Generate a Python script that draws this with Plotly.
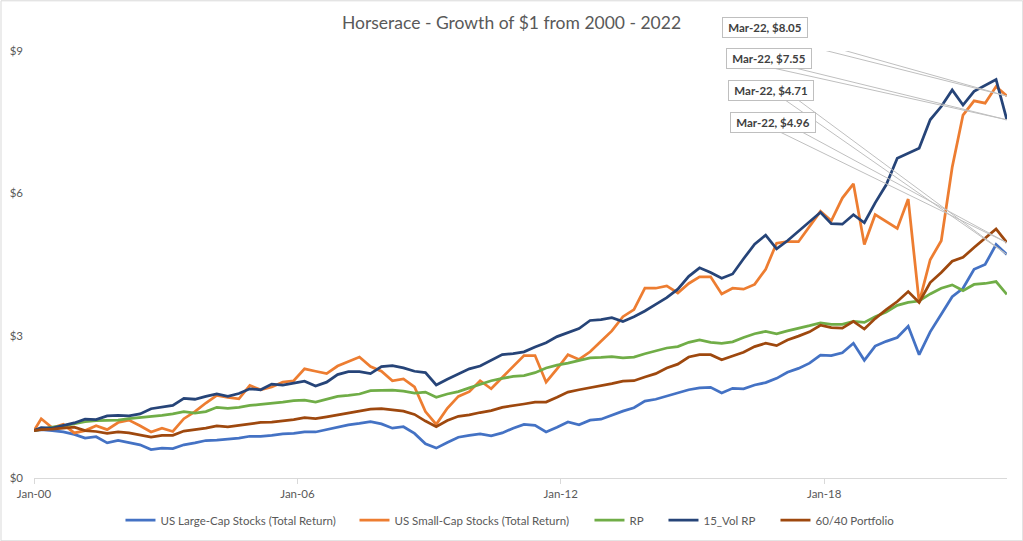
import plotly.graph_objects as go

# Quarter-end observations (first point Jan-00), month-start dates
dates = [
    "2000-01-01", "2000-03-01", "2000-06-01", "2000-09-01", "2000-12-01",
    "2001-03-01", "2001-06-01", "2001-09-01", "2001-12-01",
    "2002-03-01", "2002-06-01", "2002-09-01", "2002-12-01",
    "2003-03-01", "2003-06-01", "2003-09-01", "2003-12-01",
    "2004-03-01", "2004-06-01", "2004-09-01", "2004-12-01",
    "2005-03-01", "2005-06-01", "2005-09-01", "2005-12-01",
    "2006-03-01", "2006-06-01", "2006-09-01", "2006-12-01",
    "2007-03-01", "2007-06-01", "2007-09-01", "2007-12-01",
    "2008-03-01", "2008-06-01", "2008-09-01", "2008-12-01",
    "2009-03-01", "2009-06-01", "2009-09-01", "2009-12-01",
    "2010-03-01", "2010-06-01", "2010-09-01", "2010-12-01",
    "2011-03-01", "2011-06-01", "2011-09-01", "2011-12-01",
    "2012-03-01", "2012-06-01", "2012-09-01", "2012-12-01",
    "2013-03-01", "2013-06-01", "2013-09-01", "2013-12-01",
    "2014-03-01", "2014-06-01", "2014-09-01", "2014-12-01",
    "2015-03-01", "2015-06-01", "2015-09-01", "2015-12-01",
    "2016-03-01", "2016-06-01", "2016-09-01", "2016-12-01",
    "2017-03-01", "2017-06-01", "2017-09-01", "2017-12-01",
    "2018-03-01", "2018-06-01", "2018-09-01", "2018-12-01",
    "2019-03-01", "2019-06-01", "2019-09-01", "2019-12-01",
    "2020-03-01", "2020-06-01", "2020-09-01", "2020-12-01",
    "2021-03-01", "2021-06-01", "2021-09-01", "2021-12-01",
    "2022-03-01",
]

large_cap = [
    1.00, 1.02, 1.00, 0.97, 0.92,
    0.84, 0.87, 0.74, 0.79,
    0.75, 0.70, 0.60, 0.63,
    0.62, 0.70, 0.74, 0.79,
    0.80, 0.82, 0.84, 0.88,
    0.88, 0.90, 0.93, 0.94,
    0.97, 0.97, 1.02, 1.07,
    1.12, 1.15, 1.19, 1.14,
    1.05, 1.08, 0.94, 0.72,
    0.63, 0.75, 0.86, 0.90,
    0.93, 0.89, 0.95, 1.05,
    1.13, 1.11, 0.97, 1.07,
    1.18, 1.12, 1.22, 1.24,
    1.33, 1.41, 1.48, 1.62,
    1.66, 1.73, 1.80, 1.86,
    1.90, 1.91, 1.79, 1.89,
    1.88, 1.96, 2.01, 2.10,
    2.23, 2.31, 2.42, 2.59,
    2.58, 2.64, 2.84, 2.48,
    2.78, 2.88, 2.96, 3.20,
    2.60, 3.08, 3.45, 3.82,
    4.00, 4.40, 4.50, 4.92,
    4.71,
]

small_cap = [
    1.00, 1.25, 1.06, 1.13, 0.95,
    1.00, 1.10, 1.02, 1.17,
    1.22, 1.10, 0.97, 1.05,
    0.98, 1.25, 1.40, 1.58,
    1.74, 1.70, 1.67, 1.95,
    1.86, 1.92, 2.02, 2.05,
    2.30, 2.25, 2.20, 2.36,
    2.46, 2.55, 2.35, 2.25,
    2.05, 2.09, 1.92, 1.40,
    1.13, 1.47, 1.72, 1.82,
    2.05, 1.88, 2.12, 2.36,
    2.58, 2.58, 2.02, 2.30,
    2.60, 2.50, 2.66, 2.88,
    3.10, 3.40, 3.55, 4.00,
    4.00, 4.05, 3.90, 4.10,
    4.24, 4.24, 3.88, 4.00,
    3.98, 4.08, 4.40, 4.95,
    4.98, 4.98, 5.30, 5.62,
    5.42, 5.90, 6.20, 4.92,
    5.55, 5.41, 5.26, 5.88,
    3.70, 4.60, 5.00, 6.55,
    7.65, 7.95, 7.90, 8.25,
    8.05,
]

rp = [
    1.00, 1.03, 1.07, 1.10, 1.14,
    1.19, 1.21, 1.21, 1.22,
    1.25, 1.27, 1.30, 1.32,
    1.35, 1.40, 1.37, 1.40,
    1.49, 1.47, 1.49, 1.53,
    1.55, 1.57, 1.60, 1.63,
    1.64, 1.60, 1.66, 1.72,
    1.74, 1.77, 1.84, 1.85,
    1.85, 1.83, 1.79, 1.81,
    1.70, 1.77, 1.82, 1.90,
    1.98, 2.05, 2.10, 2.14,
    2.16, 2.22, 2.32, 2.38,
    2.42, 2.48, 2.53, 2.54,
    2.56, 2.53, 2.55, 2.62,
    2.68, 2.74, 2.77, 2.86,
    2.91, 2.86, 2.84, 2.87,
    2.96, 3.04, 3.09, 3.04,
    3.10, 3.15, 3.21, 3.27,
    3.24, 3.24, 3.30, 3.28,
    3.40, 3.50, 3.64, 3.70,
    3.73, 3.88, 4.00, 4.07,
    3.95, 4.08, 4.10, 4.14,
    3.87,
]

vol15_rp = [
    1.00, 1.06, 1.05, 1.11, 1.16,
    1.24, 1.23, 1.31, 1.32,
    1.31, 1.35, 1.46, 1.49,
    1.53, 1.68, 1.66, 1.72,
    1.77, 1.72, 1.78, 1.88,
    1.86, 1.98, 1.96, 2.00,
    2.04, 1.94, 2.02, 2.18,
    2.24, 2.24, 2.20, 2.35,
    2.37, 2.32, 2.25, 2.22,
    1.96, 2.08, 2.19, 2.30,
    2.36, 2.48, 2.60, 2.62,
    2.66, 2.76, 2.85, 2.98,
    3.07, 3.15, 3.32, 3.34,
    3.38, 3.30, 3.40, 3.52,
    3.66, 3.80, 3.98, 4.25,
    4.43, 4.33, 4.21, 4.30,
    4.62, 4.93, 5.12, 4.83,
    5.00, 5.20, 5.40, 5.60,
    5.36, 5.35, 5.55, 5.38,
    5.80, 6.18, 6.74, 6.84,
    6.95, 7.55, 7.83, 8.18,
    7.86, 8.15, 8.27, 8.40,
    7.55,
]

portfolio_6040 = [
    1.00, 1.02, 1.03, 1.05, 1.07,
    1.00, 0.98, 0.94, 0.97,
    0.95, 0.91, 0.86, 0.90,
    0.90, 0.99, 1.02, 1.05,
    1.10, 1.08, 1.11, 1.14,
    1.17, 1.18, 1.20, 1.23,
    1.27, 1.25, 1.29, 1.33,
    1.38, 1.42, 1.45, 1.46,
    1.44, 1.41, 1.34, 1.20,
    1.08, 1.21, 1.30, 1.33,
    1.38, 1.42, 1.49, 1.52,
    1.56, 1.60, 1.60, 1.70,
    1.81, 1.86, 1.90, 1.94,
    1.99, 2.04, 2.05, 2.13,
    2.20, 2.32, 2.40, 2.55,
    2.60, 2.60, 2.49, 2.57,
    2.65, 2.77, 2.84, 2.79,
    2.91, 2.99, 3.08, 3.22,
    3.17, 3.16, 3.30, 3.14,
    3.36, 3.55, 3.72, 3.93,
    3.70, 4.12, 4.33, 4.57,
    4.65, 4.86, 5.05, 5.25,
    4.96,
]

series_names = [
    "US Large-Cap Stocks (Total Return)",
    "US Small-Cap Stocks (Total Return)",
    "RP",
    "15_Vol RP",
    "60/40 Portfolio",
]
series_values = [large_cap, small_cap, rp, vol15_rp, portfolio_6040]
series_colors = ["#4472C4", "#ED7D31", "#70AD47", "#264478", "#9E480E"]
legend_widths = [189, 190, 29, 67, 76]

x_tick_vals = ["2000-01-01", "2006-01-01", "2012-01-01", "2018-01-01"]
x_tick_text = ["Jan-00", "Jan-06", "Jan-12", "Jan-18"]
y_tick_vals = [0, 3, 6, 9]
y_tick_text = ["$0", "$3", "$6", "$9"]
end_label = "Mar-22"

FONT = "Lato"
GREY = "#595959"
FS = 11.5

fig = go.Figure()
for name, vals, color, lw in zip(series_names, series_values, series_colors, legend_widths):
    fig.add_trace(go.Scatter(
        x=dates, y=vals, mode="lines", name=name,
        line=dict(color=color, width=2.75),
        legendwidth=lw,
    ))

# Callout labels: (series index, box shift from point, wedge base offsets)
callouts = [
    (1, -241.7, 69.0, (-236.7, 59.5), (-211.7, 59.5)),
    (3, -237.7, 60.8, (-231.7, 51.3), (-209.7, 51.3)),
    (0, -236.2, 164.0, (-221.7, 154.5), (-208.7, 154.5)),
    (4, -233.7, 120.1, (-226.7, 110.6), (-204.7, 110.6)),
]
for idx, xs, ys, b1, b2 in callouts:
    xv = dates[-1]
    yv = series_values[idx][-1]
    fig.add_shape(
        type="path", xref="x", yref="y",
        xsizemode="pixel", ysizemode="pixel",
        xanchor=xv, yanchor=yv,
        path=f"M{b1[0]},{b1[1]} L0,0 L{b2[0]},{b2[1]}",
        line=dict(color="#BFBFBF", width=1),
        layer="above",
    )
    fig.add_annotation(
        x=xv, y=yv, xref="x", yref="y",
        text=f"<b>{end_label}, ${yv:.2f}</b>",
        showarrow=False, xshift=xs, yshift=ys,
        bgcolor="white", bordercolor="#BFBFBF", borderwidth=1, borderpad=2,
        width=80, height=15,
        font=dict(family=FONT, size=11.5, color="#404040"),
    )

W, H = 1023, 541
ML, MR, MT, MB = 33.5, 16.3, 50.7, 63.3
PW, PH = W - ML - MR, H - MT - MB

# chart-area border
fig.add_shape(
    type="rect", xref="paper", yref="paper",
    x0=(0.5 - ML) / PW, x1=(W - 0.5 - ML) / PW,
    y0=-(MB - 0.5) / PH, y1=1 + (MT - 0.5) / PH,
    line=dict(color="#D9D9D9", width=1), fillcolor="rgba(0,0,0,0)",
    layer="below",
)

fig.update_layout(
    width=W, height=H, autosize=False,
    margin=dict(l=ML, r=MR, t=MT, b=MB, pad=0),
    paper_bgcolor="white", plot_bgcolor="white",
    font=dict(family=FONT, size=FS, color=GREY),
    title=dict(
        text="Horserace - Growth of $1 from 2000 - 2022",
        x=0.5, xref="container", xanchor="center",
        y=1 - 23 / H, yref="container", yanchor="middle",
        font=dict(family=FONT, size=17.5, color=GREY),
    ),
    showlegend=True,
    legend=dict(
        orientation="h", x=(120 - ML) / PW, xanchor="left", xref="paper",
        y=1 - 520 / H, yanchor="middle", yref="container",
        font=dict(family=FONT, size=FS, color=GREY),
        bgcolor="rgba(0,0,0,0)", traceorder="normal",
    ),
    xaxis=dict(
        type="date", range=["2000-01-01", "2022-03-02"],
        tickvals=x_tick_vals, ticktext=x_tick_text,
        showgrid=False, zeroline=False,
        showline=True, linecolor="#D9D9D9", linewidth=1,
        ticks="outside", ticklen=5, tickcolor="#D9D9D9", tickwidth=1,
        tickfont=dict(family=FONT, size=FS, color=GREY),
        fixedrange=True, automargin=False,
    ),
    yaxis=dict(
        range=[0, 9], tickvals=y_tick_vals, ticktext=y_tick_text,
        showgrid=False, zeroline=False, showline=False, ticks="",
        ticklabelstandoff=10,
        tickfont=dict(family=FONT, size=FS, color=GREY),
        fixedrange=True, automargin=False,
    ),
)

fig.write_html(
    "out.html",
    config={"displayModeBar": False},
    post_script="document.body.style.margin='0';",
)
